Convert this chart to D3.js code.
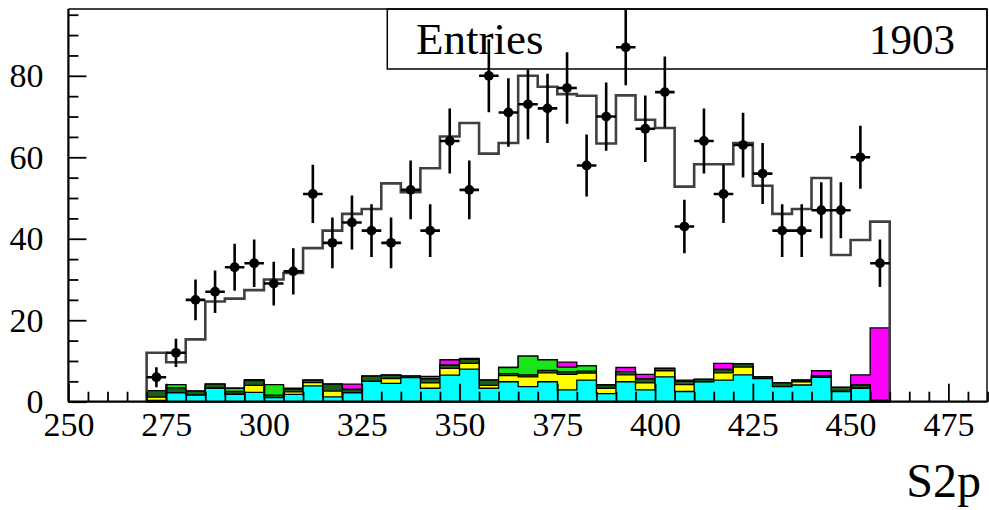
<!DOCTYPE html>
<html><head><meta charset="utf-8">
<script src="https://cdn.jsdelivr.net/npm/d3@7"></script>
<style>body{margin:0;background:#fff} svg{display:block}</style>
</head><body><svg id="c" width="989" height="510"></svg>
<script>
// ---------- data ----------
const binStarts = [270,275,280,285,290,295,300,305,310,315,320,325,330,335,340,345,350,355,360,365,370,375,380,385,390,395,400,405,410,415,420,425,430,435,440,445,450,455];
const binWidth = 5;
const dataCounts = [6,12,25,27,33,34,29,32,51,39,44,42,39,52,42,64,52,80,71,73,72,77,58,70,87,67,76,43,64,51,63,56,42,42,47,47,60,34];
const mcTotal = [12.0,9.7,15.3,24.6,25.3,27.4,30.0,31.6,37.7,42.0,46.1,47.3,53.6,51.4,57.3,65.1,68.4,60.9,63.5,80.0,77.3,75.5,75.1,63.4,75.2,69.2,67.2,52.8,58.3,58.3,63.5,53.0,46.1,47.3,54.9,36.0,39.7,44.2];
const cyanBkg    = [0.3,2.2,1.6,3.3,1.8,2.3,1.0,1.8,3.9,1.2,2.2,5.0,4.5,5.9,3.3,6.5,8.0,3.3,4.9,3.7,4.9,2.9,5.3,2.0,4.9,2.9,6.1,2.5,4.9,5.3,6.6,5.7,3.7,4.1,6.0,2.5,3.3,0.0];
const yellowBkg  = [0.8,0.0,0.0,0.0,0.0,1.7,0.0,0.6,0.8,1.4,0.0,0.0,1.2,0.0,1.3,1.7,1.4,0.7,1.5,2.4,2.2,3.8,1.7,1.3,1.7,1.7,1.5,1.7,0.0,1.8,1.9,0.0,0.0,0.8,0.0,0.0,0.0,0.0];
const darkGreenBkg = [1.6,1.2,1.0,1.0,0.7,1.2,0.6,0.7,0.6,1.7,0.8,1.3,0.8,0.4,1.0,0.8,1.0,1.3,0.5,0.5,0.6,0.6,0.5,0.8,0.8,1.0,0.6,0.8,0.6,0.8,0.8,0.4,0.9,0.4,0.4,1.0,0.8,0.3];
const greenBkg   = [0.0,0.8,0.0,0.0,0.8,0.0,2.6,0.0,0.0,0.0,0.0,0.0,0.0,0.0,0.0,0.0,0.0,0.0,1.5,4.6,2.6,1.2,1.3,0.0,0.0,0.0,0.0,0.0,0.0,0.0,0.0,0.0,0.0,0.0,0.0,0.0,0.0,0.0];
const magentaBkg = [0.0,0.0,0.0,0.0,0.0,0.2,0.0,0.2,0.0,0.0,1.3,0.0,0.0,0.0,0.6,1.3,0.2,0.0,0.0,0.0,0.0,1.2,0.0,0.0,1.0,1.1,0.0,0.3,0.0,1.5,0.0,0.0,0.0,0.0,1.2,0.0,2.5,17.8];
const xTickValues = [250,275,300,325,350,375,400,425,450,475];
const yTickValues = [0,20,40,60,80];
const statsLabel = "Entries";
const statsValue = "1903";
const xTitle = "S2p";

// ---------- layout ----------
const svg = d3.select("#c");
const L = 68.4, R = 987.5, T = 9, B = 401.7;
const x = d3.scaleLinear().domain([250, 485]).range([L, R]);
const y = d3.scaleLinear().domain([0, 96.4]).range([B, T]);
const FONT = "'Liberation Serif','Times New Roman',serif";

// stats box (drawn first, transparent)
svg.append("rect").attr("x", 387.3).attr("y", T).attr("width", R - 0.5 - 387.3).attr("height", 60)
  .attr("fill", "none").attr("stroke", "#000").attr("stroke-width", 1.5);
svg.append("text").attr("x", 416).attr("y", 53.5).attr("font-family", FONT).attr("font-size", 45)
  .attr("fill", "#000").text(statsLabel);
svg.append("text").attr("x", 955).attr("y", 53.5).attr("text-anchor", "end").attr("font-family", FONT)
  .attr("font-size", 43).attr("fill", "#000").text(statsValue);

// step path builder
function stepPath(vals, close) {
  let p = `M${x(binStarts[0])},${y(0)}`;
  vals.forEach((v, i) => {
    p += `L${x(binStarts[i])},${y(v)}L${x(binStarts[i] + binWidth)},${y(v)}`;
  });
  p += `L${x(binStarts[binStarts.length - 1] + binWidth)},${y(0)}`;
  if (close) p += "Z";
  return p;
}

// stacked background
const layers = [cyanBkg, yellowBkg, darkGreenBkg, greenBkg, magentaBkg];
const layerColors = ["#00ffff", "#ffff00", "#1c5e1c", "#18e618", "#ff00ff"];
const cum = [];
layers.forEach((arr, k) => {
  cum.push(arr.map((v, i) => v + (k > 0 ? cum[k - 1][i] : 0)));
});
for (let k = layers.length - 1; k >= 0; k--) {
  svg.append("path").attr("d", stepPath(cum[k], true))
    .attr("fill", layerColors[k]).attr("stroke", "#000").attr("stroke-width", 1.3)
    .attr("stroke-linejoin", "miter");
}

// MC total step line
svg.append("path").attr("d", stepPath(mcTotal, false)).attr("fill", "none")
  .attr("stroke", "#404040").attr("stroke-width", 2.6);

// data points
const clip = svg.append("clipPath").attr("id", "pc").append("rect")
  .attr("x", L).attr("y", T).attr("width", R - L).attr("height", B - T);
const pts = svg.append("g").attr("clip-path", "url(#pc)");
dataCounts.forEach((n, i) => {
  const cx = x(binStarts[i] + binWidth / 2);
  const e = Math.sqrt(n);
  pts.append("line").attr("x1", cx).attr("x2", cx).attr("y1", y(n - e)).attr("y2", y(n + e))
    .attr("stroke", "#000").attr("stroke-width", 2.6);
  pts.append("line").attr("x1", x(binStarts[i])).attr("x2", x(binStarts[i] + binWidth))
    .attr("y1", y(n)).attr("y2", y(n)).attr("stroke", "#000").attr("stroke-width", 2.6);
  pts.append("circle").attr("cx", cx).attr("cy", y(n)).attr("r", 4.9).attr("fill", "#000");
});

// axes
const minorX = d3.range(250, 486, 5).filter(v => v % 25 !== 0);
const minorY = d3.range(0, 97, 5).filter(v => v % 20 !== 0);

const gx = svg.append("g").attr("transform", `translate(0,${B})`);
gx.call(d3.axisBottom(x).tickValues(minorX).tickSize(-10).tickFormat(""));
const gx2 = svg.append("g").attr("transform", `translate(0,${B})`);
gx2.call(d3.axisBottom(x).tickValues(xTickValues).tickSize(-18).tickFormat(d3.format("d")));
gx2.selectAll("text").attr("y", 34.5).attr("dy", 0).attr("font-family", FONT).attr("font-size", 34).attr("fill", "#000");

const gy = svg.append("g").attr("transform", `translate(${L},0)`);
gy.call(d3.axisLeft(y).tickValues(minorY).tickSize(-10).tickFormat(""));
const gy2 = svg.append("g").attr("transform", `translate(${L},0)`);
gy2.call(d3.axisLeft(y).tickValues(yTickValues).tickSize(-18).tickFormat(d3.format("d")));
gy2.selectAll("text").attr("x", -25).attr("dy", "0.32em").attr("font-family", FONT).attr("font-size", 34).attr("fill", "#000");

[gx, gx2, gy, gy2].forEach(g => {
  g.selectAll(".domain").remove();
  g.selectAll(".tick line").attr("stroke", "#000").attr("stroke-width", 1.8);
});

// frame
svg.append("line").attr("x1", L).attr("x2", L).attr("y1", T).attr("y2", B).attr("stroke", "#000").attr("stroke-width", 2.2);
svg.append("line").attr("x1", L).attr("x2", R).attr("y1", B).attr("y2", B).attr("stroke", "#000").attr("stroke-width", 2.2);
svg.append("line").attr("x1", L).attr("x2", R).attr("y1", T).attr("y2", T).attr("stroke", "#000").attr("stroke-width", 1.6);
svg.append("line").attr("x1", R - 0.5).attr("x2", R - 0.5).attr("y1", T).attr("y2", B).attr("stroke", "#000").attr("stroke-width", 1.4);

// x title
svg.append("text").attr("x", 981).attr("y", 497).attr("text-anchor", "end").attr("font-family", FONT)
  .attr("font-size", 48).attr("fill", "#000").text(xTitle);
</script></body></html>
